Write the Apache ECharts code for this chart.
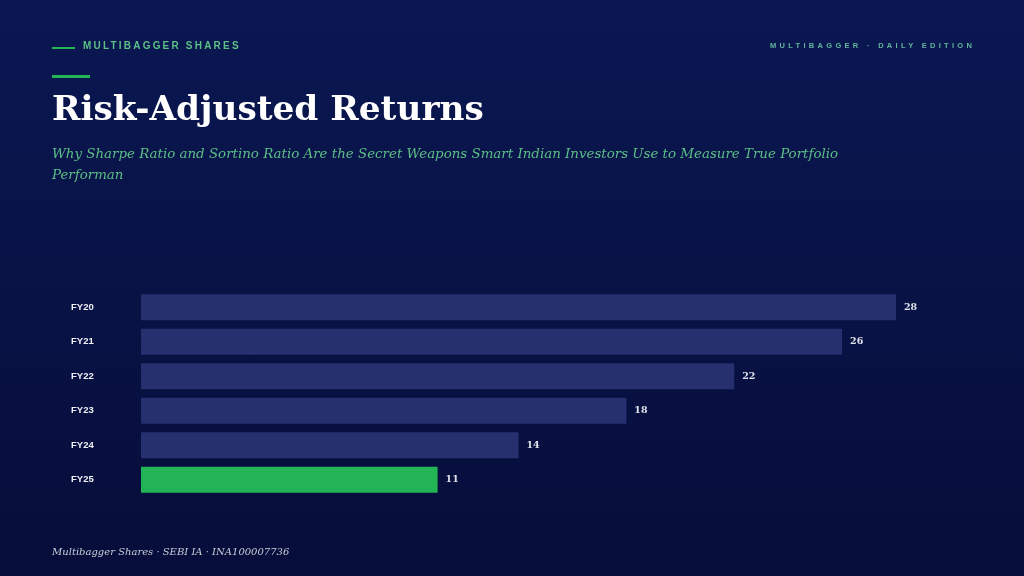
<!DOCTYPE html>
<html><head><meta charset="utf-8">
<script src="https://cdn.jsdelivr.net/npm/echarts@6/dist/echarts.min.js"></script>
<style>
html,body{margin:0;padding:0;width:1024px;height:576px;overflow:hidden;background:linear-gradient(180deg,#0a1752 0%,#081244 55%,#060d3a 100%);}
#c{position:absolute;left:0;top:0;width:1024px;height:576px;}
.hdr{position:absolute;font-family:"Liberation Sans",Arial,sans-serif;font-weight:bold;white-space:nowrap;}
</style></head>
<body>
<div id="c"></div>
<div class="hdr" style="left:83px;top:40px;font-size:10px;letter-spacing:2.2px;color:#5cbf86;">MULTIBAGGER SHARES</div>
<div class="hdr" style="left:770px;top:41px;font-size:7.5px;letter-spacing:3.3px;color:#62b59c;">MULTIBAGGER · DAILY EDITION</div>
<script>
const categories = ['FY20','FY21','FY22','FY23','FY24','FY25'];
const values = [28, 26, 22, 18, 14, 11];
const highlightIndex = 5;

const chart = echarts.init(document.getElementById('c'), null, {renderer:'canvas'});
chart.setOption({
  backgroundColor: 'transparent',
  animation: false,
  title: [
    {text:'Risk-Adjusted Returns', left:52, top:94, padding:0,
     textStyle:{color:'#ffffff', fontFamily:'"DejaVu Serif", Georgia, serif', fontWeight:'bold', fontSize:34.3}},
    {text:'Why Sharpe Ratio and Sortino Ratio Are the Secret Weapons Smart Indian Investors Use to Measure True Portfolio Performan',
     left:52, top:144, padding:0,
     textStyle:{color:'#5cbf86', fontFamily:'"DejaVu Serif", Georgia, serif', fontStyle:'italic', fontWeight:'normal', fontSize:13.4, lineHeight:21, width:810, overflow:'break'}},
    {text:'Multibagger Shares · SEBI IA · INA100007736', left:52, top:547, padding:0,
     textStyle:{color:'#c9cdd9', fontFamily:'"DejaVu Serif", Georgia, serif', fontStyle:'italic', fontWeight:'normal', fontSize:10}}
  ],
  graphic: [
    {type:'rect', shape:{x:52,y:47,width:23,height:2}, style:{fill:'#22b455'}},
    {type:'rect', shape:{x:52,y:75,width:38,height:3}, style:{fill:'#22b455'}}
  ],
  grid: {left:141, right:128, top:290, bottom:79, containLabel:false},
  xAxis: {type:'value', min:0, max:28, show:false},
  yAxis: {
    type:'category', data:categories, inverse:true,
    axisLine:{show:false}, axisTick:{show:false}, splitLine:{show:false},
    axisLabel:{align:'left', margin:70, color:'#eef0f6', fontFamily:'"Liberation Sans", Arial, sans-serif', fontWeight:'bold', fontSize:9.5}
  },
  series: [{
    type:'bar', barWidth:26,
    data: values.map((v,i)=>({value:v, itemStyle:{color: i===highlightIndex ? '#22b455' : '#26306e'}})),
    label:{show:true, position:'right', distance:8, color:'#dfe2ea', fontFamily:'"DejaVu Serif", Georgia, serif', fontWeight:'bold', fontSize:9.5}
  }]
});
</script>
</body></html>
